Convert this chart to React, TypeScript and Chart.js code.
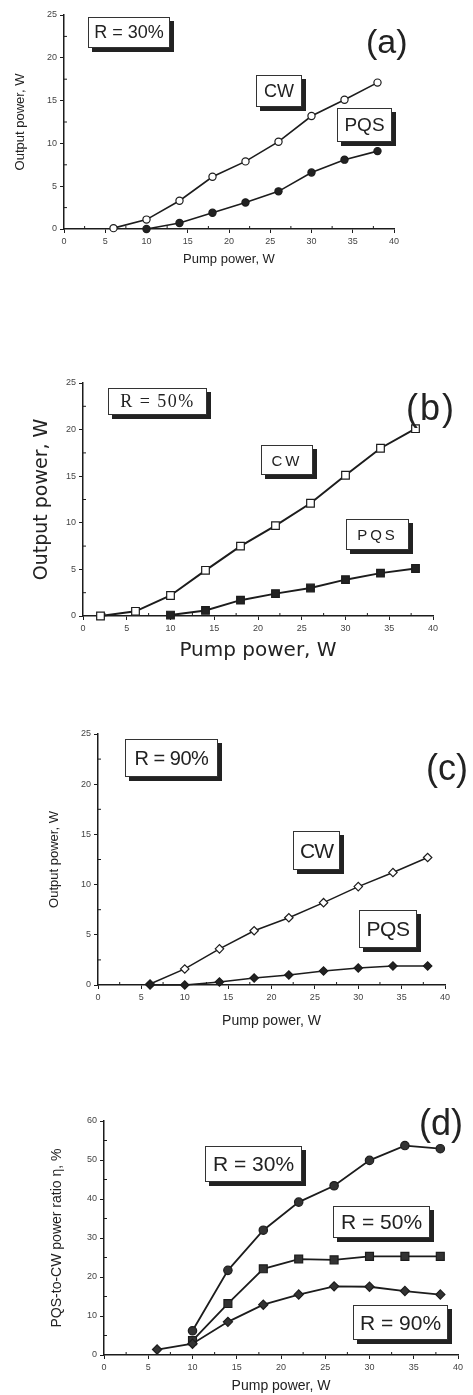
import React, { useEffect, useRef } from 'react';
import { Chart, registerables } from 'chart.js';

Chart.register(...registerables);

// ---------- Data ----------
// (a) R = 30%
const pumpA_CW = [6, 10, 14, 18, 22, 26, 30, 34, 38];
const cwA = [0.1, 1.1, 3.3, 6.1, 7.9, 10.2, 13.2, 15.1, 17.1];
const pumpA_PQS = [10, 14, 18, 22, 26, 30, 34, 38];
const pqsA = [0.0, 0.7, 1.9, 3.1, 4.4, 6.6, 8.1, 9.1];

// (b) R = 50%
const pumpB_CW = [2, 6, 10, 14, 18, 22, 26, 30, 34, 38];
const cwB = [0.0, 0.5, 2.2, 4.9, 7.5, 9.7, 12.1, 15.1, 18.0, 20.1];
const pumpB_PQS = [10, 14, 18, 22, 26, 30, 34, 38];
const pqsB = [0.1, 0.6, 1.7, 2.4, 3.0, 3.9, 4.6, 5.1];

// (c) R = 90%
const pumpC = [6, 10, 14, 18, 22, 26, 30, 34, 38];
const cwC = [0.1, 1.6, 3.6, 5.4, 6.7, 8.2, 9.8, 11.2, 12.7];
const pqsC = [0.0, 0.0, 0.3, 0.7, 1.0, 1.4, 1.7, 1.9, 1.9];

// (d) PQS-to-CW ratio
const pumpD_30 = [10, 14, 18, 22, 26, 30, 34, 38];
const ratio30 = [6.2, 21.7, 32.0, 39.2, 43.4, 49.9, 53.7, 52.9];
const pumpD_50 = [10, 14, 18, 22, 26, 30, 34, 38];
const ratio50 = [3.7, 13.2, 22.1, 24.6, 24.4, 25.3, 25.3, 25.3];
const pumpD_90 = [6, 10, 14, 18, 22, 26, 30, 34, 38];
const ratio90 = [1.4, 2.9, 8.5, 12.9, 15.5, 17.6, 17.5, 16.4, 15.5];

// Tick values
const xTickValues = [0, 5, 10, 15, 20, 25, 30, 35, 40];
const yTickPower = [0, 5, 10, 15, 20, 25];
const yTickRatio = [0, 10, 20, 30, 40, 50, 60];

// ---------- Helpers ----------
const W = 473;
const SANS = '"Liberation Sans", Arial, sans-serif';
const DEJAVU = '"DejaVu Sans", sans-serif';
const SERIF = '"Liberation Serif", "Times New Roman", serif';
const INK = '#1c1c1c';

const pts = (xs: number[], ys: number[]) => xs.map((x, i) => ({ x, y: ys[i] }));

const midpoints = (vals: number[]) => {
  const out: number[] = [];
  for (let i = 0; i < vals.length - 1; i++) out.push((vals[i] + vals[i + 1]) / 2);
  return out;
};

const minorTicksPlugin = {
  id: 'minorTicks',
  afterDraw(chart: any, _args: any, opts: any) {
    const { ctx } = chart;
    const xs = chart.scales.x;
    const ys = chart.scales.y;
    const len = opts.len || 3;
    ctx.save();
    ctx.strokeStyle = INK;
    ctx.lineWidth = 1;
    for (const v of opts.x || []) {
      const px = xs.getPixelForValue(v);
      ctx.beginPath();
      ctx.moveTo(px, ys.bottom);
      ctx.lineTo(px, ys.bottom - len);
      ctx.stroke();
    }
    for (const v of opts.y || []) {
      const py = ys.getPixelForValue(v);
      ctx.beginPath();
      ctx.moveTo(xs.left, py);
      ctx.lineTo(xs.left + len, py);
      ctx.stroke();
    }
    ctx.restore();
  },
};

type Series = {
  xs: number[];
  ys: number[];
  style: 'circle' | 'rect' | 'rectRot';
  radius: number;
  fill: string;
  lineWidth: number;
};

type PanelCfg = {
  top: number;
  height: number;
  area: { l: number; t: number; r: number; b: number }; // canvas coords
  yMax: number;
  yTicks: number[];
  series: Series[];
  tickFont: any;
  yTitle: { text: string; font: any; center: number };
  xTitle: { text: string; font: any; pad: number };
};

function Panel({ cfg }: { cfg: PanelCfg }) {
  const ref = useRef<HTMLCanvasElement | null>(null);
  useEffect(() => {
    if (!ref.current) return;
    const { area, height } = cfg;
    const yLH = cfg.yTitle.font.size * 1.2;
    const chart = new Chart(ref.current, {
      type: 'line',
      data: {
        datasets: cfg.series.map((s) => ({
          data: pts(s.xs, s.ys),
          borderColor: INK,
          borderWidth: s.lineWidth,
          pointStyle: s.style,
          pointRadius: s.radius,
          pointBackgroundColor: s.fill,
          pointBorderColor: INK,
          pointBorderWidth: 1.2,
          tension: 0,
          fill: false,
          clip: false,
        })) as any,
      },
      options: {
        responsive: false,
        animation: false,
        events: [],
        layout: {
          padding: { left: 0, top: area.t, right: W - area.r, bottom: 0 },
          autoPadding: false,
        } as any,
        plugins: {
          legend: { display: false },
          tooltip: { enabled: false },
          minorTicks: {
            x: midpoints(xTickValues),
            y: midpoints(cfg.yTicks),
            len: 3,
          },
        } as any,
        scales: {
          x: {
            type: 'linear',
            min: 0,
            max: 40,
            afterBuildTicks: (s: any) => {
              s.ticks = xTickValues.map((v) => ({ value: v }));
            },
            afterFit: (s: any) => {
              s.height = height - area.b;
              s.paddingLeft = 0;
              s.paddingRight = 0;
            },
            grid: { drawOnChartArea: false, drawTicks: true, tickLength: 4, color: INK, lineWidth: 1 },
            border: { display: true, color: INK, width: 1.5 },
            ticks: { font: cfg.tickFont, color: '#444', padding: 3, maxRotation: 0, autoSkip: false },
            title: {
              display: true,
              text: cfg.xTitle.text,
              font: cfg.xTitle.font,
              color: '#222',
              padding: { top: 0, bottom: cfg.xTitle.pad },
            },
          },
          y: {
            type: 'linear',
            min: 0,
            max: cfg.yMax,
            afterBuildTicks: (s: any) => {
              s.ticks = cfg.yTicks.map((v) => ({ value: v }));
            },
            afterFit: (s: any) => {
              s.width = area.l;
              s.paddingTop = 0;
              s.paddingBottom = 0;
            },
            grid: { drawOnChartArea: false, drawTicks: true, tickLength: 4, color: INK, lineWidth: 1 },
            border: { display: true, color: INK, width: 1.5 },
            ticks: { font: cfg.tickFont, color: '#444', padding: 3, autoSkip: false },
            title: {
              display: true,
              text: cfg.yTitle.text,
              font: cfg.yTitle.font,
              color: '#222',
              padding: { top: cfg.yTitle.center - yLH / 2, bottom: 0 },
            },
          },
        },
      } as any,
      plugins: [minorTicksPlugin],
    });
    return () => chart.destroy();
  }, [cfg]);
  return (
    <canvas
      ref={ref}
      width={W}
      height={cfg.height}
      style={{ position: 'absolute', left: 0, top: cfg.top, width: W, height: cfg.height, display: 'block' }}
    />
  );
}

// ---------- Panels ----------
const tick9 = { family: SANS, size: 9 };

const panels: PanelCfg[] = [
  {
    top: 0,
    height: 275,
    area: { l: 64, t: 15, r: 394, b: 229 },
    yMax: 25,
    yTicks: yTickPower,
    tickFont: tick9,
    series: [
      { xs: pumpA_PQS, ys: pqsA, style: 'circle', radius: 3.6, fill: '#222', lineWidth: 1.6 },
      { xs: pumpA_CW, ys: cwA, style: 'circle', radius: 3.6, fill: '#fff', lineWidth: 1.6 },
    ],
    yTitle: { text: 'Output power, W', font: { family: SANS, size: 13 }, center: 20 },
    xTitle: { text: 'Pump power, W', font: { family: SANS, size: 13 }, pad: 8 },
  },
  {
    top: 330,
    height: 335,
    area: { l: 83, t: 53, r: 433, b: 286 },
    yMax: 25,
    yTicks: yTickPower,
    tickFont: tick9,
    series: [
      { xs: pumpB_PQS, ys: pqsB, style: 'rect', radius: 5.4, fill: '#222', lineWidth: 2 },
      { xs: pumpB_CW, ys: cwB, style: 'rect', radius: 5.4, fill: '#fff', lineWidth: 2 },
    ],
    yTitle: { text: 'Output power, W', font: { family: DEJAVU, size: 19 }, center: 42 },
    xTitle: { text: 'Pump power, W', font: { family: DEJAVU, size: 20 }, pad: 2 },
  },
  {
    top: 690,
    height: 340,
    area: { l: 98, t: 44, r: 445, b: 295 },
    yMax: 25,
    yTicks: yTickPower,
    tickFont: tick9,
    series: [
      { xs: pumpC, ys: pqsC, style: 'rectRot', radius: 4.2, fill: '#222', lineWidth: 1.5 },
      { xs: pumpC, ys: cwC, style: 'rectRot', radius: 4.2, fill: '#fff', lineWidth: 1.5 },
    ],
    yTitle: { text: 'Output power, W', font: { family: SANS, size: 13 }, center: 54 },
    xTitle: { text: 'Pump power, W', font: { family: SANS, size: 14 }, pad: 0.5 },
  },
  {
    top: 1050,
    height: 345,
    area: { l: 104, t: 71, r: 458, b: 305 },
    yMax: 60,
    yTicks: yTickRatio,
    tickFont: tick9,
    series: [
      { xs: pumpD_90, ys: ratio90, style: 'rectRot', radius: 4.6, fill: '#333', lineWidth: 1.8 },
      { xs: pumpD_50, ys: ratio50, style: 'rect', radius: 5.6, fill: '#333', lineWidth: 1.8 },
      { xs: pumpD_30, ys: ratio30, style: 'circle', radius: 4.2, fill: '#333', lineWidth: 1.8 },
    ],
    yTitle: { text: 'PQS-to-CW power ratio η, %', font: { family: SANS, size: 14 }, center: 57 },
    xTitle: { text: 'Pump power, W', font: { family: SANS, size: 14 }, pad: 0 },
  },
];

type Box = { text: string; left: number; top: number; w: number; h: number; font: string; ls?: number };

const boxes: Box[] = [
  // (a)
  { text: 'R = 30%', left: 88, top: 17, w: 82, h: 31, font: `18px ${SANS}` },
  { text: 'CW', left: 256, top: 75, w: 46, h: 32, font: `18px ${SANS}` },
  { text: 'PQS', left: 337, top: 108, w: 55, h: 34, font: `19px ${SANS}` },
  // (b)
  { text: 'R = 50%', left: 108, top: 388, w: 99, h: 27, font: `18px ${SERIF}`, ls: 1.5 },
  { text: 'CW', left: 261, top: 445, w: 52, h: 30, font: `15px ${SANS}`, ls: 3 },
  { text: 'PQS', left: 346, top: 519, w: 63, h: 31, font: `15px ${SANS}`, ls: 3 },
  // (c)
  { text: 'R = 90%', left: 125, top: 739, w: 93, h: 38, font: `20px ${SANS}`, ls: -0.5 },
  { text: 'CW', left: 293, top: 831, w: 47, h: 39, font: `21px ${SANS}`, ls: -1 },
  { text: 'PQS', left: 359, top: 910, w: 58, h: 38, font: `21px ${SANS}`, ls: -0.5 },
  // (d)
  { text: 'R = 30%', left: 205, top: 1146, w: 97, h: 36, font: `21px ${SANS}` },
  { text: 'R = 50%', left: 333, top: 1206, w: 97, h: 32, font: `21px ${SANS}` },
  { text: 'R = 90%', left: 353, top: 1305, w: 95, h: 35, font: `21px ${SANS}` },
];

type Letter = { text: string; left: number; top: number; size: number; ls?: number };
const letters: Letter[] = [
  { text: '(a)', left: 366, top: 24, size: 34 },
  { text: '(b)', left: 406, top: 390, size: 36, ls: 2 },
  { text: '(c)', left: 426, top: 750, size: 36 },
  { text: '(d)', left: 419, top: 1105, size: 36 },
];

export default function App() {
  return (
    <div
      style={{
        position: 'absolute',
        left: 0,
        top: 0,
        width: W,
        height: 1395,
        overflow: 'hidden',
        background: '#fff',
      }}
    >
      {panels.map((p, i) => (
        <Panel key={i} cfg={p} />
      ))}
      {boxes.map((b, i) => (
        <div
          key={'b' + i}
          style={{
            position: 'absolute',
            left: b.left,
            top: b.top,
            width: b.w,
            height: b.h,
            boxSizing: 'border-box',
            border: '1px solid #333',
            background: '#fff',
            boxShadow: '4px 4px 0 #222',
            display: 'flex',
            alignItems: 'center',
            justifyContent: 'center',
            font: b.font,
            letterSpacing: b.ls ? b.ls + 'px' : undefined,
            color: '#222',
            whiteSpace: 'nowrap',
          }}
        >
          {b.text}
        </div>
      ))}
      {letters.map((l, i) => (
        <div
          key={'l' + i}
          style={{
            position: 'absolute',
            left: l.left,
            top: l.top,
            fontFamily: SANS,
            fontSize: l.size,
            lineHeight: 1,
            letterSpacing: l.ls ? l.ls + 'px' : undefined,
            color: '#222',
            whiteSpace: 'nowrap',
          }}
        >
          {l.text}
        </div>
      ))}
    </div>
  );
}
